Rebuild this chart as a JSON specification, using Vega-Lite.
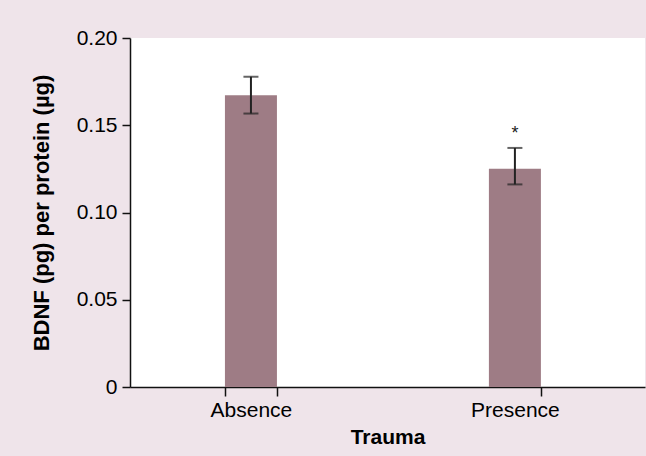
{
  "$schema": "https://vega.github.io/schema/vega-lite/v6.json",
  "width": 515,
  "height": 349,
  "autosize": {"type": "none"},
  "padding": {"left": 130, "top": 38, "right": 1, "bottom": 69},
  "background": "#efe4ea",
  "config": {"view": {"fill": "white", "stroke": null}, "font": "Liberation Sans"},
  "data": {
    "values": [
      {"trauma": "Absence", "mean": 0.1672, "lo": 0.1567, "hi": 0.1778, "sig": ""},
      {"trauma": "Presence", "mean": 0.1251, "lo": 0.1161, "hi": 0.1370, "sig": "*"}
    ]
  },
  "encoding": {
    "x": {
      "field": "trauma",
      "type": "nominal",
      "sort": null,
      "scale": {"paddingInner": 0.803, "paddingOuter": 0.377, "align": 0.477},
      "axis": {
        "tickBand": "extent",
        "labelAngle": 0,
        "tickSize": 9,
        "tickWidth": 1.5,
        "tickColor": "#111",
        "domainColor": "#111",
        "domainWidth": 1.5,
        "labelFontSize": 21,
        "labelColor": "#000",
        "labelPadding": 3,
        "title": "Trauma",
        "titleFontSize": 21,
        "titleFontWeight": "bold",
        "titleColor": "#000",
        "titlePadding": 6
      }
    }
  },
  "layer": [
    {
      "mark": {"type": "bar", "color": "#9e7c85"},
      "encoding": {
        "y": {
          "field": "mean",
          "type": "quantitative",
          "scale": {"domain": [0, 0.2], "nice": false},
          "axis": {
            "values": [0, 0.05, 0.1, 0.15, 0.2],
            "labelExpr": "datum.value == 0 ? '0' : format(datum.value, '.2f')",
            "grid": false,
            "tickSize": 8,
            "tickWidth": 1.5,
            "tickColor": "#111",
            "domainColor": "#111",
            "domainWidth": 1.5,
            "labelFontSize": 21,
            "labelColor": "#000",
            "labelPadding": 5,
            "title": "BDNF (pg) per protein (µg)",
            "titleFontSize": 22,
            "titleFontWeight": "bold",
            "titleColor": "#000",
            "titlePadding": 23
          }
        }
      }
    },
    {
      "mark": {"type": "rule", "color": "#222", "strokeWidth": 2},
      "encoding": {
        "y": {"field": "lo", "type": "quantitative"},
        "y2": {"field": "hi"}
      }
    },
    {
      "mark": {"type": "tick", "color": "#222", "size": 15, "thickness": 2},
      "encoding": {"y": {"field": "lo", "type": "quantitative"}}
    },
    {
      "mark": {"type": "tick", "color": "#222", "size": 15, "thickness": 2},
      "encoding": {"y": {"field": "hi", "type": "quantitative"}}
    },
    {
      "mark": {"type": "text", "fontSize": 18, "color": "#222", "baseline": "middle", "dy": -14},
      "encoding": {
        "y": {"field": "hi", "type": "quantitative"},
        "text": {"field": "sig"}
      }
    }
  ]
}
